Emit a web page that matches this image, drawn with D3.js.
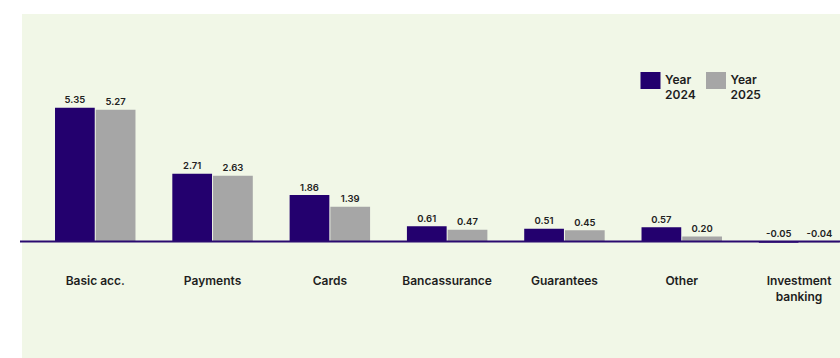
<!DOCTYPE html>
<html>
<head>
<meta charset="utf-8">
<script src="https://cdn.jsdelivr.net/npm/d3@7"></script>
<style>
  html, body { margin: 0; padding: 0; background: #ffffff; }
  svg { display: block; font-family: Inter, "Noto Sans", sans-serif; }
</style>
</head>
<body>
<svg id="chart" width="840" height="358"></svg>
<script>
// Fee income by business line, two years side by side
const categories = [
  ["Basic acc."], ["Payments"], ["Cards"], ["Bancassurance"],
  ["Guarantees"], ["Other"], ["Investment", "banking"]
];
const years = ["2024", "2025"];
const values2024 = [5.35, 2.71, 1.86, 0.61, 0.51, 0.57, -0.05];
const values2025 = [5.27, 2.63, 1.39, 0.47, 0.45, 0.20, -0.04];
const legendLabels = [["Year", "2024"], ["Year", "2025"]];

const colors = { "2024": "#23006e", "2025": "#a6a6a6" };
const W = 840, H = 358;
const svg = d3.select("#chart");

// panel background
svg.append("rect")
  .attr("x", 22).attr("y", 14)
  .attr("width", W - 22).attr("height", H - 14)
  .attr("fill", "#f1f7e7");

const keys = categories.map(c => c.join(" "));
const rows = keys.map((k, i) => ({ key: k, lines: categories[i],
  vals: [{ year: "2024", v: values2024[i] }, { year: "2025", v: values2025[i] }] }));

const x0 = d3.scaleBand().domain(keys).range([36.6, 857.7])
  .paddingInner(0.314).paddingOuter(0.157);
const x1 = d3.scaleBand().domain(years).range([0, x0.bandwidth()]).paddingInner(0.025);
const y = d3.scaleLinear().domain([0, 6]).range([241.5, 91.5]);

const groups = svg.append("g").selectAll("g").data(rows).join("g")
  .attr("transform", d => `translate(${x0(d.key)},0)`);

groups.selectAll("rect").data(d => d.vals).join("rect")
  .attr("x", d => x1(d.year))
  .attr("width", x1.bandwidth())
  .attr("y", d => Math.min(y(d.v), y(0)))
  .attr("height", d => Math.abs(y(d.v) - y(0)))
  .attr("fill", d => colors[d.year]);

// value labels
groups.selectAll("text.val").data(d => d.vals).join("text")
  .attr("class", "val")
  .attr("x", d => x1(d.year) + x1.bandwidth() / 2)
  .attr("y", d => (d.v >= 0 ? y(d.v) : y(0)) - 4.5)
  .attr("text-anchor", "middle")
  .attr("font-size", 9.5).attr("font-weight", 600)
  .attr("fill", "#222")
  .text(d => d.v.toFixed(2));

// zero line
svg.append("line")
  .attr("x1", 20).attr("x2", W)
  .attr("y1", y(0)).attr("y2", y(0))
  .attr("stroke", "#2a0a70").attr("stroke-width", 2.2);

// category labels
const cat = svg.append("g").selectAll("text").data(rows).join("text")
  .attr("x", d => x0(d.key) + x0.bandwidth() / 2)
  .attr("y", 285)
  .attr("text-anchor", "middle")
  .attr("font-size", 12).attr("font-weight", 600)
  .attr("fill", "#1e1e1e");
cat.selectAll("tspan").data(d => d.lines).join("tspan")
  .attr("x", function () { return d3.select(this.parentNode).attr("x"); })
  .attr("dy", (d, i) => i === 0 ? 0 : 15.5)
  .text(d => d);

// legend
const legend = svg.append("g").selectAll("g").data(years).join("g")
  .attr("transform", (d, i) => `translate(${640.5 + i * 65.5},72)`);
legend.append("rect")
  .attr("width", 20).attr("height", 17)
  .attr("fill", d => colors[d]);
const lt = legend.append("text")
  .attr("x", 24.5).attr("y", 11.5)
  .attr("font-size", 12).attr("font-weight", 600).attr("fill", "#1e1e1e");
lt.selectAll("tspan").data((d, i) => legendLabels[i]).join("tspan")
  .attr("x", 24.5).attr("dy", (d, i) => i === 0 ? 0 : 15.5)
  .text(d => d);
</script>
</body>
</html>
